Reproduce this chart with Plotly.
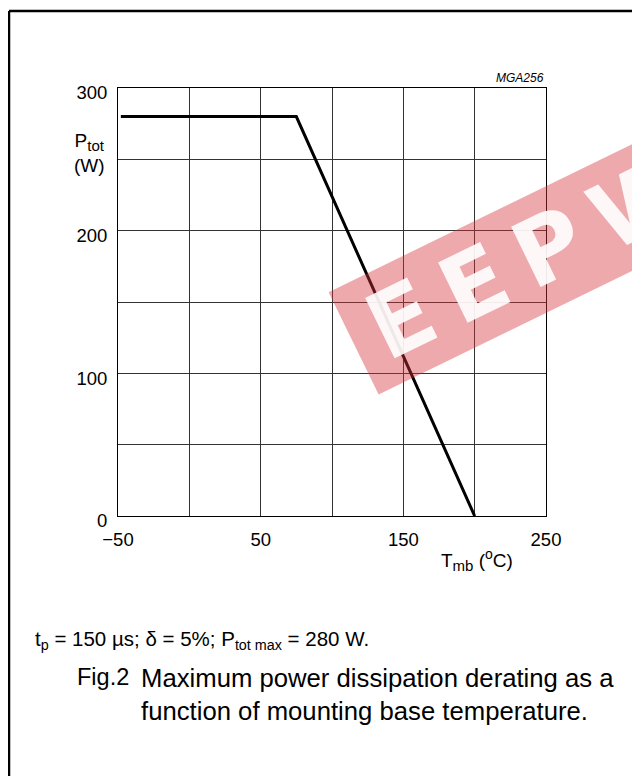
import plotly.graph_objects as go

# Data
temp_c = [-48, 75, 200]
p_tot_w = [280, 280, 0]
x_tickvals = [-50, 50, 150, 250]
x_ticktext = ["\u221250", "50", "150", "250"]
y_tickvals = [0, 100, 200, 300]
y_ticktext = ["0", "100", "200", "300"]

W, H = 640, 776
OFF = 8  # browser body margin
L_ref, T_ref, PW, PH = 118, 88, 428, 428
L = L_ref - OFF
T = T_ref - OFF
R = W - L - PW
B = H - T - PH


def px(xp):
    return (xp - L_ref) / PW


def py(yp):
    return (T_ref + PH - yp) / PH


FONT = "Liberation Sans, Arial, sans-serif"

fig = go.Figure()
fig.add_trace(go.Scatter(x=temp_c, y=p_tot_w, mode="lines",
                         line=dict(color="black", width=3), showlegend=False,
                         hoverinfo="skip"))

axis_common = dict(showgrid=True, gridcolor="#333333", gridwidth=1,
                   showline=True, linecolor="black", linewidth=1, mirror=True,
                   ticks="", zeroline=False,
                   tickfont=dict(family=FONT, size=18.5, color="black"))

fig.update_xaxes(range=[-50, 250], tickvals=x_tickvals, ticktext=x_ticktext,
                 minor=dict(dtick=50, tick0=-50, showgrid=True, gridcolor="#333333", gridwidth=1),
                 ticklabelstandoff=7, **axis_common)
fig.update_yaxes(range=[0, 300], tickvals=y_tickvals, ticktext=y_ticktext,
                 minor=dict(dtick=50, tick0=0, showgrid=True, gridcolor="#333333", gridwidth=1),
                 ticklabelstandoff=6, ticklabelshift=5, **axis_common)

ann = []
ann.append(dict(text="MGA256", xref="paper", yref="paper", x=px(546), y=py(78),
                xanchor="right", yanchor="middle", showarrow=False,
                font=dict(family=FONT, size=12, color="black", style="italic")))
ann.append(dict(text="P<sub><span style='font-size:15px'>tot</span></sub><br>(W)",
                xref="paper", yref="paper", x=px(89), y=py(153),
                xanchor="center", yanchor="middle", showarrow=False, align="center",
                font=dict(family=FONT, size=19, color="black")))
ann.append(dict(text="T<sub><span style='font-size:15px'>mb</span></sub> (<sup><span style='font-size:14px'>o</span></sup>C)",
                xref="paper", yref="paper", x=px(477), y=py(560),
                xanchor="center", yanchor="middle", showarrow=False,
                font=dict(family=FONT, size=19, color="black")))
ann.append(dict(text="t<sub>p</sub> = 150 \u00b5s; \u03b4 = 5%; P<sub>tot max</sub> = 280 W.",
                xref="paper", yref="paper", x=px(33), y=py(640),
                xanchor="left", yanchor="middle", showarrow=False,
                font=dict(family=FONT, size=20.5, color="black")))
ann.append(dict(text="Fig.2", xref="paper", yref="paper", x=px(75), y=py(677),
                xanchor="left", yanchor="middle", showarrow=False,
                font=dict(family=FONT, size=23.5, color="black")))
ann.append(dict(text="Maximum power dissipation derating as a<br>function of mounting base temperature.",
                xref="paper", yref="paper", x=px(139), y=py(694),
                xanchor="left", yanchor="middle", showarrow=False, align="left",
                font=dict(family=FONT, size=25.7, color="black")))
# watermark
ann.append(dict(text="<b>\u2009E\u2009E\u2009P\u2009W</b>\u00a0\u00a0", xref="paper", yref="paper",
                x=px(548), y=py(248),
                xanchor="center", yanchor="middle", showarrow=False, textangle=-26,
                bgcolor="rgba(214,50,60,0.42)", borderpad=3,
                font=dict(family="DejaVu Sans, sans-serif", size=92, color="rgba(255,255,255,0.9)")))

shapes = [
    dict(type="line", xref="paper", yref="paper", x0=px(9), y0=py(11), x1=px(660), y1=py(11),
         line=dict(color="black", width=2.5)),
    dict(type="line", xref="paper", yref="paper", x0=px(9), y0=py(11), x1=px(9), y1=py(800),
         line=dict(color="black", width=2.5)),
]

fig.update_layout(width=W, height=H, margin=dict(l=L, r=R, t=T, b=B),
                  paper_bgcolor="white", plot_bgcolor="white",
                  annotations=ann, shapes=shapes, showlegend=False)

fig.write_html("out.html")
